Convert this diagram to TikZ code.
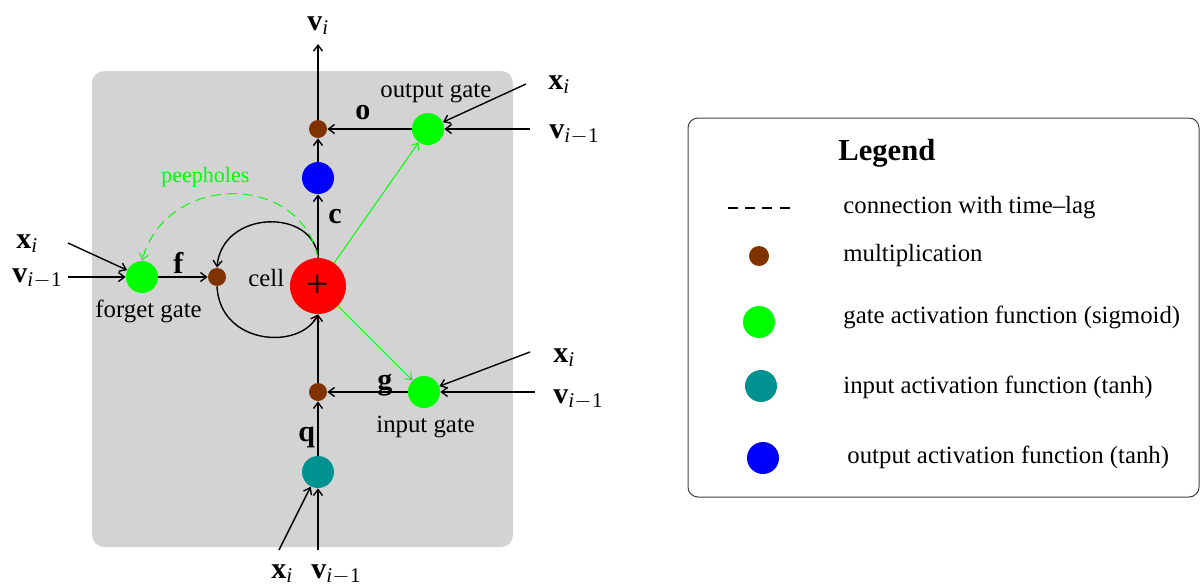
\documentclass[tikz,border=0pt]{standalone}
\usepackage{fontspec}
\setmainfont{Liberation Serif}
\usetikzlibrary{arrows.meta}
\definecolor{boxgray}{RGB}{211,211,211}
\definecolor{mulbrown}{RGB}{128,51,0}
\definecolor{gategreen}{RGB}{0,255,0}
\definecolor{inteal}{RGB}{0,145,145}
\definecolor{outblue}{RGB}{0,0,255}
\definecolor{cellred}{RGB}{255,0,0}
\newcommand{\lbl}[2]{{\fontsize{15}{18}\selectfont\bfseries #1}\raisebox{-2pt}{\fontsize{10.5}{12}\selectfont #2}}
\newcommand{\iminus}{{\itshape i}\kern0.2pt$-$\kern0.2pt1}
\newcommand{\ionly}{{\itshape i}}
\tikzset{
  mul/.style={circle,fill=mulbrown,inner sep=0pt,minimum size=9pt},
  gatec/.style={circle,fill=gategreen,inner sep=0pt,minimum size=16pt},
  inc/.style={circle,fill=inteal,inner sep=0pt,minimum size=16pt},
  outc/.style={circle,fill=outblue,inner sep=0pt,minimum size=16pt},
  cellc/.style={circle,fill=cellred,inner sep=0pt,minimum size=28pt,font=\fontsize{20}{20}\selectfont},
  arr/.style={draw=black,line width=0.7pt,-{Straight Barb[length=3pt,width=4.5pt]}},
  garr/.style={draw=gategreen,line width=0.5pt,-{Straight Barb[length=3pt,width=4.5pt]}},
  txt/.style={font=\fontsize{12.4}{14}\selectfont,inner sep=0pt,anchor=base west},
  blab/.style={font=\fontsize{15}{18}\selectfont\bfseries,inner sep=0pt,anchor=base west},
  vlab/.style={inner sep=0pt,anchor=base west},
}
\begin{document}
\begin{tikzpicture}[x=0.5pt,y=-0.5pt]
\useasboundingbox (0,0) rectangle (1200,584);
% grey box
\fill[boxgray,rounded corners=6pt] (92,71) rectangle (513,547);

% nodes
\node[mul] (om) at (318,129) {};
\node[gatec] (og) at (428,129) {};
\node[outc] (ob) at (318,178) {};
\node[cellc] (cell) at (318,286) {+};
\node[mul] (fm) at (217,277) {};
\node[gatec] (fg) at (142,277) {};
\node[mul] (im) at (318,392) {};
\node[gatec] (ig) at (424,392) {};
\node[inc] (ic) at (318,472) {};

% free ends
\coordinate (top) at (318,44);
\coordinate (oxs) at (526,84);
\coordinate (ovs) at (530,129);
\coordinate (fxs) at (68,243);
\coordinate (fvs) at (68,277);
\coordinate (ixs) at (530,352);
\coordinate (ivs) at (535,392);
\coordinate (bxs) at (279,550);
\coordinate (bvs) at (318,550);

% labels
\node[vlab] at (307,30) {\lbl{v}{\ionly}};
\node[vlab] at (548,89) {\lbl{x}{\ionly}};
\node[vlab] at (549,138) {\lbl{v}{\iminus}};
\node[vlab] at (16,248) {\lbl{x}{\ionly}};
\node[vlab] at (12,282) {\lbl{v}{\iminus}};
\node[vlab] at (553,362) {\lbl{x}{\ionly}};
\node[vlab] at (553,403) {\lbl{v}{\iminus}};
\node[vlab] at (271,578) {\lbl{x}{\ionly}};
\node[vlab] at (311,578) {\lbl{v}{\iminus}};

\node[blab] at (355,119) {o};
\node[blab] at (173,273) {f};
\node[blab] at (328,223) {c};
\node[blab] at (377,389) {g};
\node[blab] at (298,441) {q};

\node[txt] at (380,97) {output gate};
\node[txt] at (95,317) {forget gate};
\node[txt] at (248,286) {cell};
\node[txt] at (376,432) {input gate};
\node[txt,text=gategreen,font=\fontsize{11}{13}\selectfont] at (161,182) {peepholes};

% connectors
\draw[arr] (om) -- (top);
\draw[arr] (ob) -- (om);
\draw[arr] (cell) -- (ob);
\draw[arr] (og) -- (om);
\draw[arr] (oxs) -- (og);
\draw[arr] (ovs) -- (og);
\draw[garr] (cell) -- (og);
\draw[garr] (cell) -- (ig);
\draw[arr] (fxs) -- (fg);
\draw[arr] (fvs) -- (fg);
\draw[arr] (fg) -- (fm);
\draw[arr] (cell.north) .. controls +(-4,-50) and +(5,-58) .. (fm.north);
\draw[arr] (fm.south) .. controls +(3,59) and +(-18,36) .. (cell.south);
\draw[garr,dashed,dash pattern=on 5pt off 3pt] (cell.north) .. controls +(-18,-86) and +(24,-88) .. (fg.north);
\draw[arr] (ig) -- (im);
\draw[arr] (ixs) -- (ig);
\draw[arr] (ivs) -- (ig);
\draw[arr] (im) -- (cell);
\draw[arr] (ic) -- (im);
\draw[arr] (bxs) -- (ic);
\draw[arr] (bvs) -- (ic);

% legend
\draw[black!75,line width=0.5pt,rounded corners=5pt] (688,118) rectangle (1199,497);
\node[txt,font=\fontsize{15.3}{18}\selectfont\bfseries] at (838,160) {Legend};
\coordinate (ld1) at (728,208);
\coordinate (ld2) at (791,208);
\draw[black,line width=0.6pt,dash pattern=on 5pt off 3.6pt] (ld1) -- (ld2);
\node[txt] at (843,213) {connection with time–lag};
\node[mul,minimum size=10pt] (lm) at (759,256) {};
\node[txt] at (843,261) {multiplication};
\node[gatec] (lg) at (759,322) {};
\node[txt] at (843,323) {gate activation function (sigmoid)};
\node[inc] (li) at (761,386) {};
\node[txt] at (843,393) {input activation function (tanh)};
\node[outc] (lo) at (763,458) {};
\node[txt] at (847,463) {output activation function (tanh)};
\end{tikzpicture}
\end{document}
